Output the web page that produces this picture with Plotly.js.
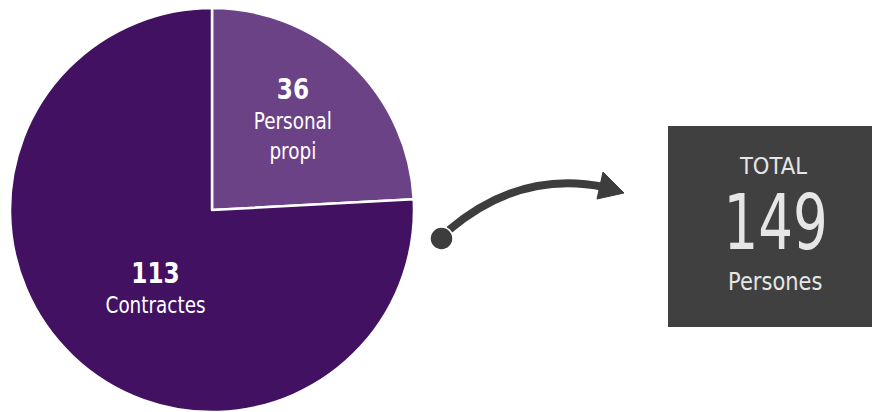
<!DOCTYPE html>
<html><head><meta charset="utf-8">
<script src="https://cdn.plot.ly/plotly-3.0.1.min.js"></script>
<style>html,body{margin:0;padding:0;background:#fff;}#chart{width:872px;height:412px;}</style>
</head><body><div id="chart"></div>
<script>
const categories = ["Personal propi", "Contractes"];
const categoryLines = ["Personal<br>propi", "Contractes"];
const values = [36, 113];
const colors = ["#6b4286", "#421162"];
const totalLabel = "TOTAL";
const totalUnit = "Persones";
const total = values.reduce((a, b) => a + b, 0);

const FONT = "'DejaVu Sans', sans-serif";
const W = 872, H = 412;

const pie = {
  type: "pie",
  labels: categories,
  values: values,
  sort: false,
  direction: "clockwise",
  rotation: 0,
  marker: {colors: colors, line: {color: "#ffffff", width: 2.5}},
  textinfo: "none",
  hoverinfo: "label+value",
  domain: {x: [10 / W, 414 / W], y: [0, 404 / H]},
  showlegend: false
};

const labelPos = [[293, 118], [155, 287]];
const annotations = [];
const squeeze = [];
categories.forEach((c, i) => {
  annotations.push({
    x: labelPos[i][0], y: labelPos[i][1], xref: "x", yref: "y",
    text: "<b><span style='font-size:29px'>" + values[i] + "</span></b><br>" + categoryLines[i],
    showarrow: false, align: "center",
    font: {family: FONT, size: 23, color: "#ffffff"}
  });
  squeeze.push([0.8, 1]);
});
annotations.push({x: 773, y: 166, xref: "x", yref: "y", text: totalLabel, showarrow: false,
  font: {family: FONT, size: 23, color: "#e6e6e6"}});
squeeze.push([0.92, 1]);
annotations.push({x: 775, y: 223, xref: "x", yref: "y", text: String(total), showarrow: false,
  font: {family: FONT, size: 72, color: "#e6e6e6"}});
squeeze.push([0.76, 1.06]);
annotations.push({x: 775, y: 281, xref: "x", yref: "y", text: totalUnit, showarrow: false,
  font: {family: FONT, size: 25, color: "#e6e6e6"}});
squeeze.push([0.84, 1]);

const shapes = [
  {type: "rect", xref: "x", yref: "y", x0: 668, x1: 872, y0: 126, y1: 327,
   fillcolor: "#404040", line: {width: 0}, layer: "below"},
  {type: "path", xref: "x", yref: "y", path: "M 449 230 Q 520 170 604 187",
   line: {color: "#3d3d3d", width: 8}},
  {type: "path", xref: "x", yref: "y", path: "M 603 172 L 624 193 L 597 199 Z",
   fillcolor: "#3d3d3d", line: {color: "#3d3d3d", width: 1}},
  {type: "circle", xref: "x", yref: "y", x0: 430, x1: 453, y0: 227, y1: 250,
   fillcolor: "#3d3d3d", line: {color: "#ffffff", width: 1.5}}
];

const layout = {
  width: W, height: H,
  margin: {l: 0, r: 0, t: 0, b: 0},
  paper_bgcolor: "#ffffff", plot_bgcolor: "rgba(0,0,0,0)",
  xaxis: {range: [0, W], visible: false, fixedrange: true},
  yaxis: {range: [H, 0], visible: false, fixedrange: true},
  shapes: shapes,
  annotations: annotations,
  showlegend: false
};

Plotly.newPlot("chart", [pie], layout, {displayModeBar: false, staticPlot: true}).then(gd => {
  // emulate the condensed typeface of the original
  gd.querySelectorAll("g.annotation").forEach(g => {
    const i = +g.getAttribute("data-index");
    const t = g.querySelector("text.annotation-text");
    if (t && squeeze[i]) {
      t.style.transformBox = "fill-box";
      t.style.transformOrigin = "center";
      t.style.transform = "scale(" + squeeze[i][0] + "," + squeeze[i][1] + ")";
    }
  });
});
</script></body></html>
